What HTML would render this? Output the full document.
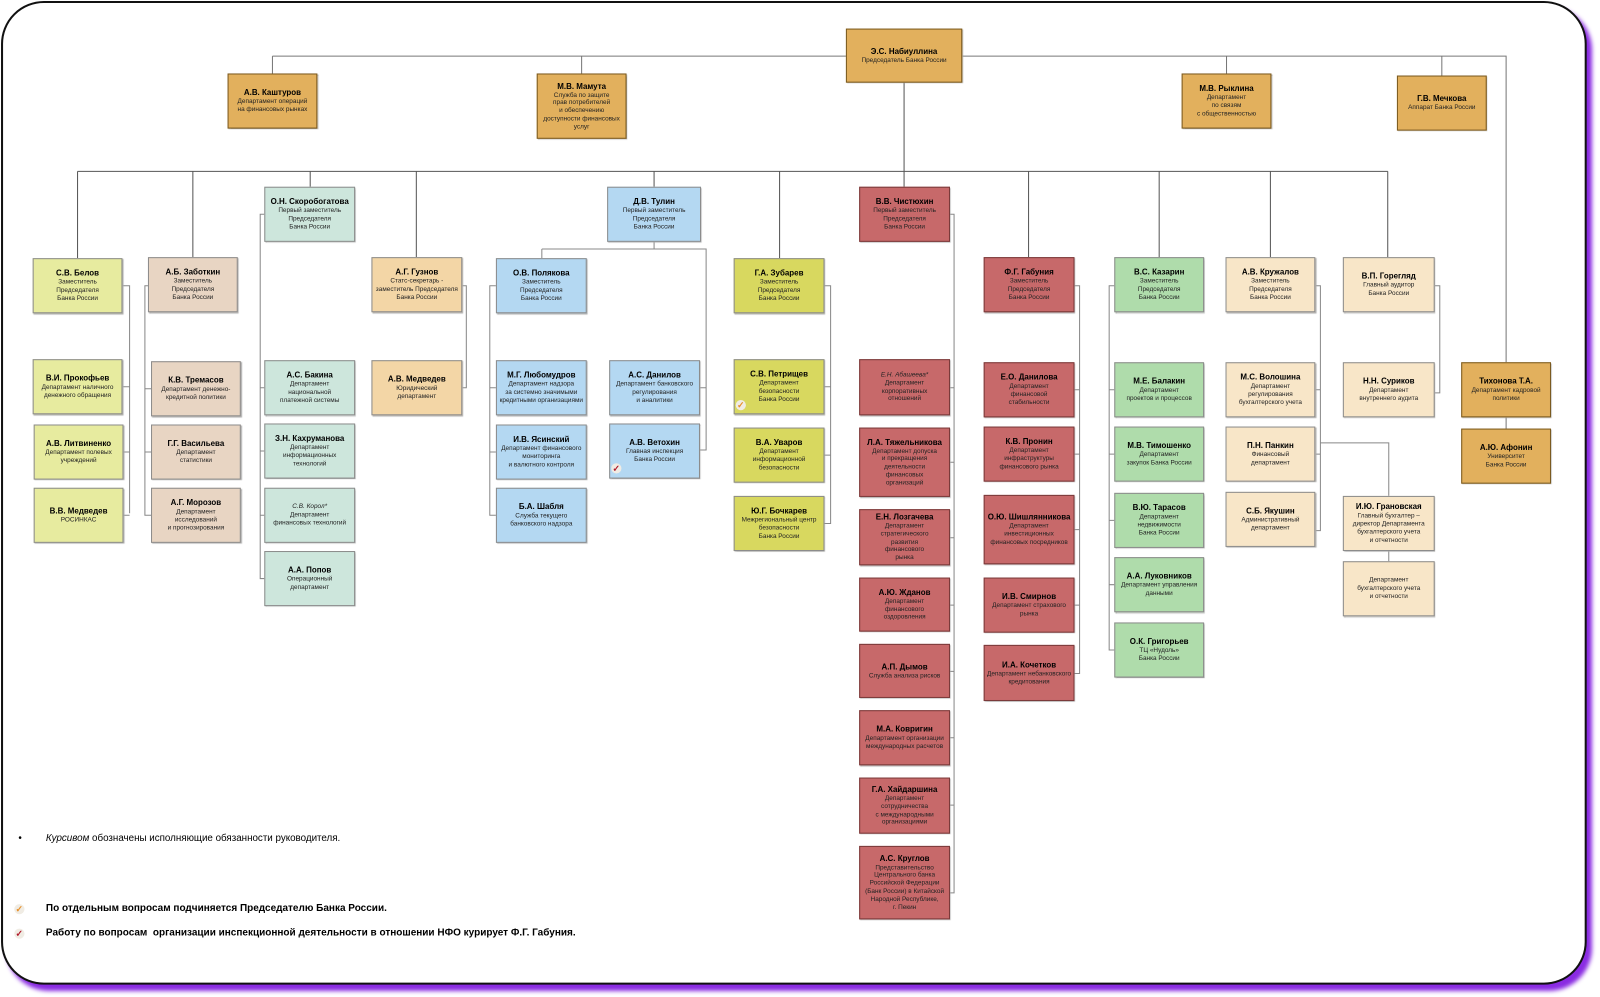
<!DOCTYPE html>
<html><head><meta charset="utf-8"><style>
html,body{margin:0;padding:0;background:#fff;width:1600px;height:997px;overflow:hidden}
#w{position:absolute;left:0;top:0;width:1568px;height:977px;transform:scale(1.0204);transform-origin:0 0;font-family:"Liberation Sans",sans-serif}
#frame{position:absolute;left:1px;top:1px;width:1550px;height:960px;border:2px solid #111;border-radius:42px;box-shadow:5px 6px 4px #8a2be2;background:#fff}
.b{position:absolute;width:88px;height:54px;box-sizing:border-box;border:1px solid #8c8c8c;box-shadow:1px 1px 1px #aaa;display:flex;flex-direction:column;justify-content:center;align-items:center;text-align:center;font-size:6.3px;line-height:7.8px;color:#222;overflow:hidden}
.b b{font-size:7.8px;line-height:10px;color:#000}
.o{background:#e2b05d;border-color:#7a5a20}
.y{background:#e7eb9f}.t{background:#e8d5c3}.g{background:#cde6dc}.p{background:#f3d6a6}
.bl{background:#b4d8f2}.yy{background:#d8d85f}.r{background:#c7696a;border-color:#7a3a3a}.gr{background:#afdcab}.c{background:#f8e6c8}
svg{position:absolute;left:0;top:0}
.n{position:absolute;font-size:9.6px;color:#000;white-space:nowrap}
.ck{position:absolute;width:10px;height:10px;border-radius:50%;background:#f0ece4;font-size:9px;line-height:10px;text-align:center;font-weight:bold}
</style></head><body><div id="w">
<div id="frame"></div>
<svg width="1568" height="977" fill="none" stroke="#888" stroke-width="1">
<path d="M267 55H1476V355M267 55V72M570 55V72M1202 55V72M1413 55V74M1476 408V420" stroke="#777"/>
<path d="M886 81V168M76 168H1360M76 168V253M189 168V252M304 168V183M408 168V252M641 168V183M764 168V253M886 168V183M1008 168V252M1136 168V252M1245 168V252M1360 168V252" stroke="#555"/>
<path d="M120 280H127V503M120 379H127M121 443H127M121 505H127"/>
<path d="M145 280H142V505H148M142 381H148M142 443H148"/>
<path d="M259 210H255V567H259M255 380H259M255 442H259M255 505H259"/>
<path d="M453 280H457V380H453"/>
<path d="M641 237V244M531 244H692V441H686M686 380H692M531 244V253"/>
<path d="M486 280H480V505H486M480 380H486M480 443H486"/>
<path d="M808 280H814V513H808M808 379H814M808 446H814"/>
<path d="M931 210H935V875H931M931 380H935M931 453H935M931 527H935M931 593H935M931 658H935M931 723H935M931 789H935"/>
<path d="M1053 280H1058V660H1053M1053 382H1058M1053 445H1058M1053 519H1058M1053 593H1058"/>
<path d="M1092 280H1087V637H1092M1087 382H1092M1087 445H1092M1087 510H1092M1087 573H1092"/>
<path d="M1289 280H1294V520H1289M1289 382H1294M1289 445H1294M1294 434H1361V486"/>
<path d="M1406 280H1411V385H1406M1361 540V550"/>
</svg>
<div class="b o" style="left:829px;top:28px;width:114px;height:53px"><b>Э.С. Набиуллина</b>Председатель Банка России</div>
<div class="b o" style="left:223px;top:72px"><b>А.В. Каштуров</b>Департамент операций<br>на финансовых рынках</div>
<div class="b o" style="left:526px;top:72px;height:64px"><b>М.В. Мамута</b>Служба по защите<br>прав потребителей<br>и обеспечению<br>доступности финансовых<br>услуг</div>
<div class="b o" style="left:1158px;top:72px"><b>М.В. Рыклина</b>Департамент<br>по связям<br>с общественностью</div>
<div class="b o" style="left:1369px;top:74px"><b>Г.В. Мечкова</b>Аппарат Банка России</div>
<div class="b o" style="left:1432px;top:355px"><b>Тихонова Т.А.</b>Департамент кадровой<br>политики</div>
<div class="b o" style="left:1432px;top:420px"><b>А.Ю. Афонин</b>Университет<br>Банка России</div>

<div class="b y" style="left:32px;top:253px"><b>С.В. Белов</b>Заместитель<br>Председателя<br>Банка России</div>
<div class="b y" style="left:32px;top:352px"><b>В.И. Прокофьев</b>Департамент наличного<br>денежного обращения</div>
<div class="b y" style="left:33px;top:416px"><b>А.В. Литвиненко</b>Департамент полевых<br>учреждений</div>
<div class="b y" style="left:33px;top:478px"><b>В.В. Медведев</b>РОСИНКАС</div>

<div class="b t" style="left:145px;top:252px"><b>А.Б. Заботкин</b>Заместитель<br>Председателя<br>Банка России</div>
<div class="b t" style="left:148px;top:354px"><b>К.В. Тремасов</b>Департамент денежно-<br>кредитной политики</div>
<div class="b t" style="left:148px;top:416px"><b>Г.Г. Васильева</b>Департамент<br>статистики</div>
<div class="b t" style="left:148px;top:478px"><b>А.Г. Морозов</b>Департамент<br>исследований<br>и прогнозирования</div>

<div class="b g" style="left:259px;top:183px;width:89px"><b>О.Н. Скоробогатова</b>Первый заместитель<br>Председателя<br>Банка России</div>
<div class="b g" style="left:259px;top:353px;width:89px"><b>А.С. Бакина</b>Департамент<br>национальной<br>платежной системы</div>
<div class="b g" style="left:259px;top:415px;width:89px"><b>З.Н. Кахруманова</b>Департамент<br>информационных<br>технологий</div>
<div class="b g" style="left:259px;top:478px;width:89px"><i>С.В. Корол*</i>Департамент<br>финансовых технологий</div>
<div class="b g" style="left:259px;top:540px;width:89px"><b>А.А. Попов</b>Операционный<br>департамент</div>

<div class="b p" style="left:364px;top:252px;width:89px"><b>А.Г. Гузнов</b>Статс-секретарь -<br>заместитель Председателя<br>Банка России</div>
<div class="b p" style="left:364px;top:353px;width:89px"><b>А.В. Медведев</b>Юридический<br>департамент</div>

<div class="b bl" style="left:595px;top:183px;width:92px"><b>Д.В. Тулин</b>Первый заместитель<br>Председателя<br>Банка России</div>
<div class="b bl" style="left:486px;top:253px;width:89px"><b>О.В. Полякова</b>Заместитель<br>Председателя<br>Банка России</div>
<div class="b bl" style="left:486px;top:353px;width:89px"><b>М.Г. Любомудров</b>Департамент надзора<br>за системно значимыми<br>кредитными организациями</div>
<div class="b bl" style="left:486px;top:416px;width:89px"><b>И.В. Ясинский</b>Департамент финансового<br>мониторинга<br>и валютного контроля</div>
<div class="b bl" style="left:486px;top:478px;width:89px"><b>Б.А. Шабля</b>Служба текущего<br>банковского надзора</div>
<div class="b bl" style="left:597px;top:353px;width:89px"><b>А.С. Данилов</b>Департамент банковского<br>регулирования<br>и аналитики</div>
<div class="b bl" style="left:597px;top:415px;width:89px"><b>А.В. Ветохин</b>Главная инспекция<br>Банка России</div>
<div class="ck" style="left:599px;top:454px;color:#b0182a">✓</div>

<div class="b yy" style="left:719px;top:253px;width:89px"><b>Г.А. Зубарев</b>Заместитель<br>Председателя<br>Банка России</div>
<div class="b yy" style="left:719px;top:352px;width:89px"><b>С.В. Петрищев</b>Департамент<br>безопасности<br>Банка России</div>
<div class="ck" style="left:721px;top:392px;color:#e8902a">✓</div>
<div class="b yy" style="left:719px;top:419px;width:89px"><b>В.А. Уваров</b>Департамент<br>информационной<br>безопасности</div>
<div class="b yy" style="left:719px;top:486px;width:89px"><b>Ю.Г. Бочкарев</b>Межрегиональный центр<br>безопасности<br>Банка России</div>

<div class="b r" style="left:842px;top:183px;width:89px"><b>В.В. Чистюхин</b>Первый заместитель<br>Председателя<br>Банка России</div>
<div class="b r" style="left:842px;top:352px;width:89px;height:55px"><i>Е.Н. Абашеева*</i>Департамент<br>корпоративных<br>отношений</div>
<div class="b r" style="left:842px;top:419px;width:89px;height:68px"><b>Л.А. Тяжельникова</b>Департамент допуска<br>и прекращения<br>деятельности<br>финансовых<br>организаций</div>
<div class="b r" style="left:842px;top:499px;width:89px;height:55px"><b>Е.Н. Лозгачева</b>Департамент<br>стратегического<br>развития<br>финансового<br>рынка</div>
<div class="b r" style="left:842px;top:566px;width:89px;height:53px"><b>А.Ю. Жданов</b>Департамент<br>финансового<br>оздоровления</div>
<div class="b r" style="left:842px;top:631px;width:89px;height:53px"><b>А.П. Дымов</b>Служба анализа рисков</div>
<div class="b r" style="left:842px;top:696px;width:89px"><b>М.А. Ковригин</b>Департамент организации<br>международных расчетов</div>
<div class="b r" style="left:842px;top:762px;width:89px;height:55px"><b>Г.А. Хайдаршина</b>Департамент<br>сотрудничества<br>с международными<br>организациями</div>
<div class="b r" style="left:842px;top:829px;width:89px;height:72px"><b>А.С. Круглов</b>Представительство<br>Центрального банка<br>Российской Федерации<br>(Банк России) в Китайской<br>Народной Республике,<br>г. Пекин</div>

<div class="b r" style="left:964px;top:252px;width:89px"><b>Ф.Г. Габуния</b>Заместитель<br>Председателя<br>Банка России</div>
<div class="b r" style="left:964px;top:355px;width:89px"><b>Е.О. Данилова</b>Департамент<br>финансовой<br>стабильности</div>
<div class="b r" style="left:964px;top:418px;width:89px"><b>К.В. Пронин</b>Департамент<br>инфраструктуры<br>финансового рынка</div>
<div class="b r" style="left:964px;top:485px;width:89px;height:68px"><b>О.Ю. Шишлянникова</b>Департамент<br>инвестиционных<br>финансовых посредников</div>
<div class="b r" style="left:964px;top:566px;width:89px"><b>И.В. Смирнов</b>Департамент страхового<br>рынка</div>
<div class="b r" style="left:964px;top:632px;width:89px;height:55px"><b>И.А. Кочетков</b>Департамент небанковского<br>кредитования</div>

<div class="b gr" style="left:1092px;top:252px"><b>В.С. Казарин</b>Заместитель<br>Председателя<br>Банка России</div>
<div class="b gr" style="left:1092px;top:355px"><b>М.Е. Балакин</b>Департамент<br>проектов и процессов</div>
<div class="b gr" style="left:1092px;top:418px"><b>М.В. Тимошенко</b>Департамент<br>закупок Банка России</div>
<div class="b gr" style="left:1092px;top:483px"><b>В.Ю. Тарасов</b>Департамент<br>недвижимости<br>Банка России</div>
<div class="b gr" style="left:1092px;top:546px"><b>А.А. Луковников</b>Департамент управления<br>данными</div>
<div class="b gr" style="left:1092px;top:610px"><b>О.К. Григорьев</b>ТЦ «Нудоль»<br>Банка России</div>

<div class="b c" style="left:1201px;top:252px"><b>А.В. Кружалов</b>Заместитель<br>Председателя<br>Банка России</div>
<div class="b c" style="left:1201px;top:355px"><b>М.С. Волошина</b>Департамент<br>регулирования<br>бухгалтерского учета</div>
<div class="b c" style="left:1201px;top:418px"><b>П.Н. Панкин</b>Финансовый<br>департамент</div>
<div class="b c" style="left:1201px;top:482px"><b>С.Б. Якушин</b>Административный<br>департамент</div>
<div class="b c" style="left:1316px;top:252px;width:90px"><b>В.П. Горегляд</b>Главный аудитор<br>Банка России</div>
<div class="b c" style="left:1316px;top:355px;width:90px"><b>Н.Н. Суриков</b>Департамент<br>внутреннего аудита</div>
<div class="b c" style="left:1316px;top:486px;width:90px"><b>И.Ю. Грановская</b>Главный бухгалтер –<br>директор Департамента<br>бухгалтерского учета<br>и отчетности</div>
<div class="b c" style="left:1316px;top:550px;width:90px">Департамент<br>бухгалтерского учета<br>и отчетности</div>

<div class="n" style="left:18px;top:816px">•</div>
<div class="n" style="left:45px;top:816px"><i>Курсивом</i> обозначены исполняющие обязанности руководителя.</div>
<div class="ck" style="left:14px;top:886px;color:#e8902a">✓</div>
<div class="n" style="left:45px;top:885px;font-weight:bold;font-size:9.8px">По отдельным вопросам подчиняется Председателю Банка России.</div>
<div class="ck" style="left:14px;top:910px;color:#b0182a">✓</div>
<div class="n" style="left:45px;top:909px;font-weight:bold;font-size:9.8px">Работу по вопросам &nbsp;организации инспекционной деятельности в отношении НФО курирует Ф.Г. Габуния.</div>
</div></body></html>
